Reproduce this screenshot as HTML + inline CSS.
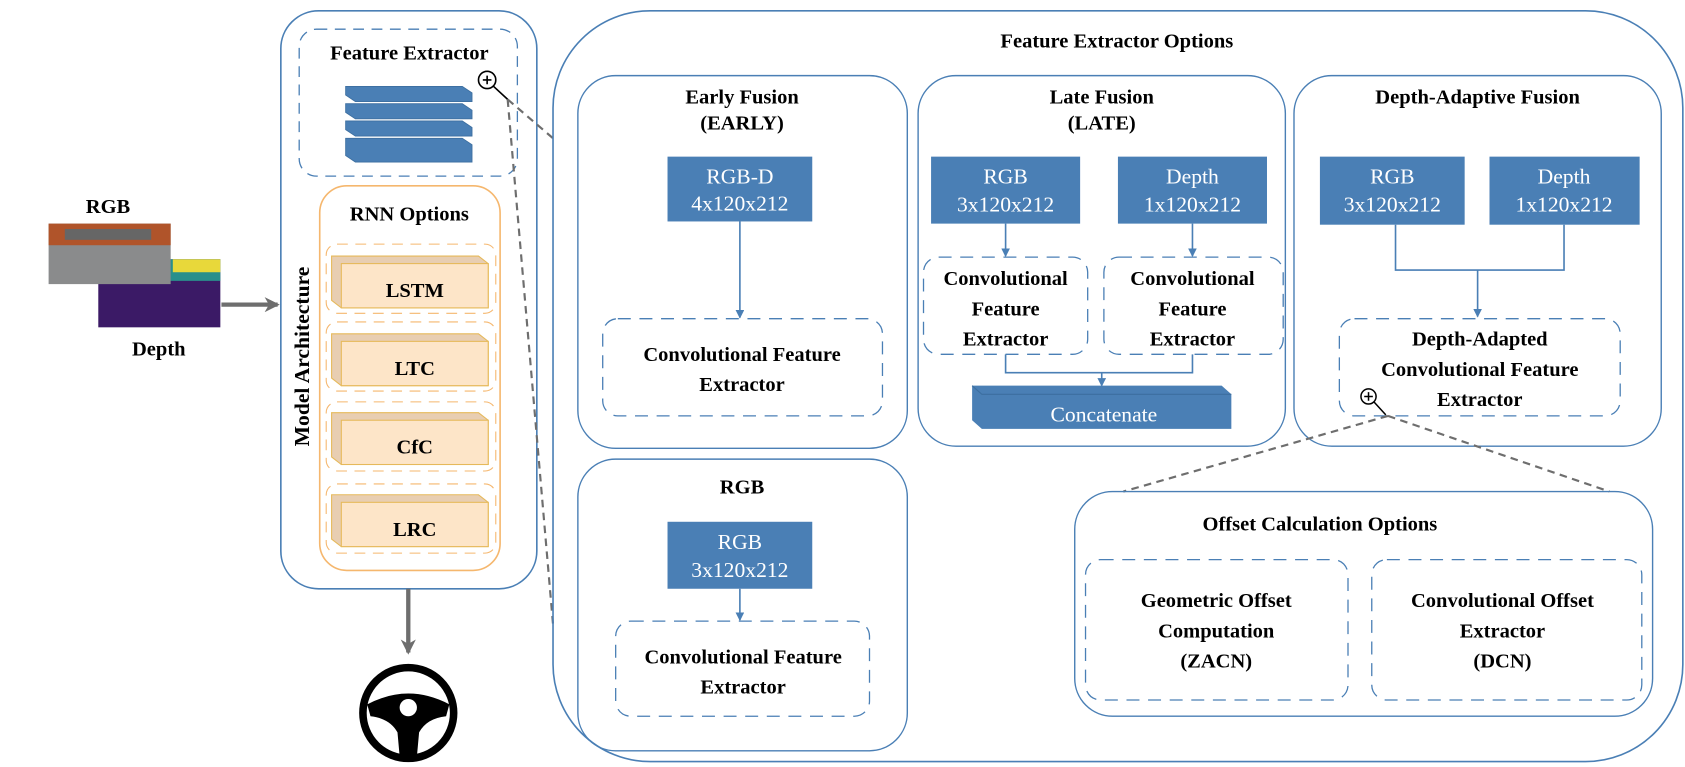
<!DOCTYPE html>
<html><head><meta charset="utf-8"><style>
html,body{margin:0;padding:0;background:#fff;}
svg{display:block}
text{font-family:"Liberation Serif",serif;}
.b{font-weight:bold;font-size:19px;fill:#000;text-anchor:middle}
.w{font-size:20px;fill:#fff;text-anchor:middle}
</style></head><body>
<svg width="1685" height="767" viewBox="0 0 1560 710" preserveAspectRatio="none" xmlns="http://www.w3.org/2000/svg">
<defs>
<marker id="ab" markerWidth="8" markerHeight="8" refX="7" refY="4" orient="auto" markerUnits="userSpaceOnUse"><path d="M0,0 L8,4 L0,8 z" fill="#4a7fb5"/></marker>
<marker id="ag" markerWidth="14" markerHeight="14" refX="12" refY="7" orient="auto" markerUnits="userSpaceOnUse"><path d="M0,0 L14,7 L0,14 L4,7 z" fill="#6e6e6e"/></marker>
</defs>
<!-- inputs -->
<text class="b" x="100" y="197">RGB</text>
<rect x="91" y="240" width="113" height="63" fill="#3b1a66"/>
<rect x="91" y="240" width="113" height="20" fill="#2a8f8c"/>
<rect x="160" y="240" width="44" height="12" fill="#e8d83a"/>
<rect x="45" y="207" width="113" height="56" fill="#8a8b8c"/>
<rect x="45" y="207" width="113" height="20" fill="#b0542a"/>
<rect x="60" y="212" width="80" height="10" fill="#666"/>
<text class="b" x="147" y="329">Depth</text>
<line x1="205" y1="282" x2="257" y2="282" stroke="#6e6e6e" stroke-width="4" marker-end="url(#ag)"/>
<!-- model architecture -->
<rect x="260" y="10" width="237" height="535" rx="35" fill="none" stroke="#4a7fb5" stroke-width="1.5"/>
<text class="b" transform="translate(286,330) rotate(-90)" text-anchor="middle" style="font-size:20px">Model Architecture</text>
<rect x="277" y="27" width="202" height="136" rx="16" fill="none" stroke="#4a7fb5" stroke-dasharray="10,7" stroke-width="1.2"/>
<text class="b" x="379" y="55">Feature Extractor</text>
<g fill="#4a7fb5" stroke="#3d6fa0" stroke-width="0.8">
<path d="M320,80 L428,80 L437,86 L437,94 L329,94 L320,88z"/>
<path d="M320,96 L428,96 L437,102 L437,110 L329,110 L320,104z"/>
<path d="M320,112 L428,112 L437,118 L437,126 L329,126 L320,120z"/>
<path d="M320,128 L428,128 L437,134 L437,150 L329,150 L320,144z"/>
</g>
<circle cx="451" cy="74" r="8" fill="#fff" stroke="#000" stroke-width="1.5"/>
<path d="M447,74h8M451,70v8M457,80 L470,92" stroke="#000" stroke-width="1.5"/>
<line x1="470" y1="92" x2="512" y2="128" stroke="#6e6e6e" stroke-width="2" stroke-dasharray="7,5"/>
<line x1="470" y1="92" x2="512" y2="578" stroke="#6e6e6e" stroke-width="2" stroke-dasharray="7,5"/>
<rect x="296" y="172" width="167" height="356" rx="25" fill="none" stroke="#f5b76e" stroke-width="1.5"/>
<text class="b" x="379" y="204">RNN Options</text>
<g>
<rect x="302" y="226" width="157" height="64" rx="10" fill="none" stroke="#f5b76e" stroke-dasharray="10,7"/>
<path d="M307,237 L443,237 L452,244 L452,285 L316,285 L307,278z" fill="#e8ceb2" stroke="#e6b95a"/>
<rect x="316" y="244" width="136" height="41" fill="#fde5c8" stroke="#e6b95a"/>
<text class="b" x="384" y="275">LSTM</text>
<rect x="302" y="298" width="157" height="64" rx="10" fill="none" stroke="#f5b76e" stroke-dasharray="10,7"/>
<path d="M307,309 L443,309 L452,316 L452,357 L316,357 L307,350z" fill="#e8ceb2" stroke="#e6b95a"/>
<rect x="316" y="316" width="136" height="41" fill="#fde5c8" stroke="#e6b95a"/>
<text class="b" x="384" y="347">LTC</text>
<rect x="302" y="372" width="157" height="64" rx="10" fill="none" stroke="#f5b76e" stroke-dasharray="10,7"/>
<path d="M307,382 L443,382 L452,389 L452,430 L316,430 L307,423z" fill="#e8ceb2" stroke="#e6b95a"/>
<rect x="316" y="389" width="136" height="41" fill="#fde5c8" stroke="#e6b95a"/>
<text class="b" x="384" y="420">CfC</text>
<rect x="302" y="448" width="157" height="64" rx="10" fill="none" stroke="#f5b76e" stroke-dasharray="10,7"/>
<path d="M307,458 L443,458 L452,465 L452,506 L316,506 L307,499z" fill="#e8ceb2" stroke="#e6b95a"/>
<rect x="316" y="465" width="136" height="41" fill="#fde5c8" stroke="#e6b95a"/>
<text class="b" x="384" y="496">LRC</text>
</g>
<line x1="378" y1="545" x2="378" y2="604" stroke="#6e6e6e" stroke-width="4" marker-end="url(#ag)"/>
<!-- steering wheel -->
<circle cx="378" cy="660" r="42" fill="none" stroke="#000" stroke-width="7"/>
<path d="M340,652 Q378,632 416,652 L413,663 Q395,665 388,678 L386,700 L370,700 L368,678 Q361,665 343,663z" fill="#000"/>
<circle cx="378" cy="655" r="8" fill="#fff"/>
<!-- outer -->
<rect x="512" y="10" width="1046" height="695" rx="90" fill="none" stroke="#4a7fb5" stroke-width="1.5"/>
<text class="b" x="1034" y="44">Feature Extractor Options</text>
<!-- early -->
<rect x="535" y="70" width="305" height="345" rx="35" fill="none" stroke="#4a7fb5" stroke-width="1.3"/>
<text class="b" x="687" y="96">Early Fusion</text>
<text class="b" x="687" y="120">(EARLY)</text>
<rect x="618" y="145" width="134" height="60" fill="#4a7fb5"/>
<text class="w" x="685" y="170">RGB-D</text><text class="w" x="685" y="195">4x120x212</text>
<line x1="685" y1="205" x2="685" y2="294" stroke="#4a7fb5" stroke-width="1.5" marker-end="url(#ab)"/>
<rect x="558" y="295" width="259" height="90" rx="14" fill="none" stroke="#4a7fb5" stroke-dasharray="12,8" stroke-width="1.2"/>
<text class="b" x="687" y="334">Convolutional Feature</text>
<text class="b" x="687" y="362">Extractor</text>
<!-- late -->
<rect x="850" y="70" width="340" height="343" rx="35" fill="none" stroke="#4a7fb5" stroke-width="1.3"/>
<text class="b" x="1020" y="96">Late Fusion</text>
<text class="b" x="1020" y="120">(LATE)</text>
<rect x="862" y="145" width="138" height="62" fill="#4a7fb5"/>
<text class="w" x="931" y="170">RGB</text><text class="w" x="931" y="196">3x120x212</text>
<rect x="1035" y="145" width="138" height="62" fill="#4a7fb5"/>
<text class="w" x="1104" y="170">Depth</text><text class="w" x="1104" y="196">1x120x212</text>
<line x1="931" y1="207" x2="931" y2="237" stroke="#4a7fb5" stroke-width="1.5" marker-end="url(#ab)"/>
<line x1="1104" y1="207" x2="1104" y2="237" stroke="#4a7fb5" stroke-width="1.5" marker-end="url(#ab)"/>
<rect x="855" y="238" width="152" height="90" rx="14" fill="none" stroke="#4a7fb5" stroke-dasharray="12,8" stroke-width="1.2"/>
<rect x="1022" y="238" width="166" height="90" rx="14" fill="none" stroke="#4a7fb5" stroke-dasharray="12,8" stroke-width="1.2"/>
<text class="b" x="931" y="264">Convolutional</text><text class="b" x="931" y="292">Feature</text><text class="b" x="931" y="320">Extractor</text>
<text class="b" x="1104" y="264">Convolutional</text><text class="b" x="1104" y="292">Feature</text><text class="b" x="1104" y="320">Extractor</text>
<path d="M931,328 V345 H1104 V328" fill="none" stroke="#4a7fb5" stroke-width="1.5"/>
<line x1="1020" y1="345" x2="1020" y2="357" stroke="#4a7fb5" stroke-width="1.5" marker-end="url(#ab)"/>
<path d="M900,357 L1131,357 L1140,365 L1140,397 L909,397 L900,389z" fill="#4a7fb5"/>
<path d="M900,357 L909,365 L1140,365" fill="none" stroke="#3d6fa0"/>
<text class="w" x="1022" y="390">Concatenate</text>
<!-- depth adaptive -->
<rect x="1198" y="70" width="340" height="343" rx="35" fill="none" stroke="#4a7fb5" stroke-width="1.3"/>
<text class="b" x="1368" y="96">Depth-Adaptive Fusion</text>
<rect x="1222" y="145" width="134" height="63" fill="#4a7fb5"/>
<text class="w" x="1289" y="170">RGB</text><text class="w" x="1289" y="196">3x120x212</text>
<rect x="1379" y="145" width="139" height="63" fill="#4a7fb5"/>
<text class="w" x="1448" y="170">Depth</text><text class="w" x="1448" y="196">1x120x212</text>
<path d="M1292,208 V250 H1448 V208" fill="none" stroke="#4a7fb5" stroke-width="1.5"/>
<line x1="1368" y1="250" x2="1368" y2="293" stroke="#4a7fb5" stroke-width="1.5" marker-end="url(#ab)"/>
<rect x="1240" y="295" width="260" height="90" rx="14" fill="none" stroke="#4a7fb5" stroke-dasharray="12,8" stroke-width="1.2"/>
<text class="b" x="1370" y="320">Depth-Adapted</text>
<text class="b" x="1370" y="348">Convolutional Feature</text>
<text class="b" x="1370" y="376">Extractor</text>
<circle cx="1267" cy="367" r="7" fill="#fff" stroke="#000" stroke-width="1.4"/>
<path d="M1263,367h8M1267,363v8M1272,372 L1283,384" stroke="#000" stroke-width="1.4"/>
<line x1="1285" y1="385" x2="1040" y2="455" stroke="#6e6e6e" stroke-width="2" stroke-dasharray="7,5"/>
<line x1="1285" y1="385" x2="1490" y2="455" stroke="#6e6e6e" stroke-width="2" stroke-dasharray="7,5"/>
<!-- offset -->
<rect x="995" y="455" width="535" height="208" rx="35" fill="none" stroke="#4a7fb5" stroke-width="1.3"/>
<text class="b" x="1222" y="491">Offset Calculation Options</text>
<rect x="1005" y="518" width="243" height="130" rx="14" fill="none" stroke="#4a7fb5" stroke-dasharray="12,8" stroke-width="1.2"/>
<rect x="1270" y="518" width="250" height="130" rx="14" fill="none" stroke="#4a7fb5" stroke-dasharray="12,8" stroke-width="1.2"/>
<text class="b" x="1126" y="562">Geometric Offset</text><text class="b" x="1126" y="590">Computation</text><text class="b" x="1126" y="618">(ZACN)</text>
<text class="b" x="1391" y="562">Convolutional Offset</text><text class="b" x="1391" y="590">Extractor</text><text class="b" x="1391" y="618">(DCN)</text>
<!-- RGB -->
<rect x="535" y="425" width="305" height="270" rx="35" fill="none" stroke="#4a7fb5" stroke-width="1.3"/>
<text class="b" x="687" y="457">RGB</text>
<rect x="618" y="483" width="134" height="62" fill="#4a7fb5"/>
<text class="w" x="685" y="508">RGB</text><text class="w" x="685" y="534">3x120x212</text>
<line x1="685" y1="545" x2="685" y2="574" stroke="#4a7fb5" stroke-width="1.5" marker-end="url(#ab)"/>
<rect x="570" y="575" width="235" height="88" rx="14" fill="none" stroke="#4a7fb5" stroke-dasharray="12,8" stroke-width="1.2"/>
<text class="b" x="688" y="614">Convolutional Feature</text>
<text class="b" x="688" y="642">Extractor</text>
</svg>
</body></html>
